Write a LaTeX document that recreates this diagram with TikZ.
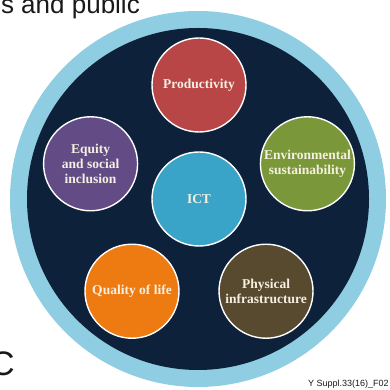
\documentclass[tikz,border=0pt]{standalone}
\usepackage{fontspec}
\setmainfont{Liberation Serif}
\newfontfamily\captionfont{Liberation Sans}
\usepackage{tikz}
\usetikzlibrary{positioning}
\definecolor{ringblue}{RGB}{143,206,226}
\definecolor{navyback}{RGB}{13,33,58}
\definecolor{prodred}{RGB}{185,70,70}
\definecolor{equitypurple}{RGB}{99,76,134}
\definecolor{envgreen}{RGB}{122,152,58}
\definecolor{ictblue}{RGB}{58,163,200}
\definecolor{qualorange}{RGB}{238,122,18}
\definecolor{physbrown}{RGB}{87,74,46}
\definecolor{petaltext}{RGB}{245,240,226}
\tikzset{
  petal/.style={circle, draw=white, line width=1.4pt, minimum size=94pt, inner sep=0pt,
    align=center, text=petaltext, font=\bfseries\fontsize{13.5}{15}\selectfont},
  cornertext/.style={inner sep=0pt, text=black!90, font=\captionfont}
}

\begin{document}
\begin{tikzpicture}[x=1pt, y=1pt]
		\useasboundingbox (0,0) rectangle (389,390);
		\clip (0,0) rectangle (389,390);
		\pgfmathsetmacro{\ringr}{114}
		%% background rings
		\fill[ringblue] (198,191) circle (188pt);
		\fill[navyback] (198,191) circle (171pt);
		%% hub and petals
		\node[petal, fill=ictblue] (ict) at (199,191) {ICT};
		\node[petal, fill=prodred] (prod) at ([shift={(90:\ringr)}]ict.center) {Productivity};
		\node[petal, fill=equitypurple] (equity) at ([shift={(162:\ringr)}]ict.center) {Equity\\and social\\inclusion};
		\node[petal, fill=envgreen] (env) at ([shift={(18:\ringr)}]ict.center) {Environmental\\sustainability};
		\node[petal, fill=qualorange] (quality) at ([shift={(234:\ringr)}]ict.center) {Quality of life};
		\node[petal, fill=physbrown] (phys) at ([shift={(306:\ringr)}]ict.center) {Physical\\infrastructure};
		%% cut text at the edges
		\node[cornertext, anchor=base east, font=\captionfont\fontsize{26}{26}\selectfont] (topline) at (140,376) {s and public};
		\node[cornertext, anchor=base east, font=\captionfont\fontsize{34}{34}\selectfont] (leftc) at (15,14) {C};
		\node[cornertext, anchor=base west, font=\captionfont\fontsize{9}{9}\selectfont] (figtag) at (308,3) {Y Suppl.33(16)\_F02};
		\end{tikzpicture}
\end{document}
